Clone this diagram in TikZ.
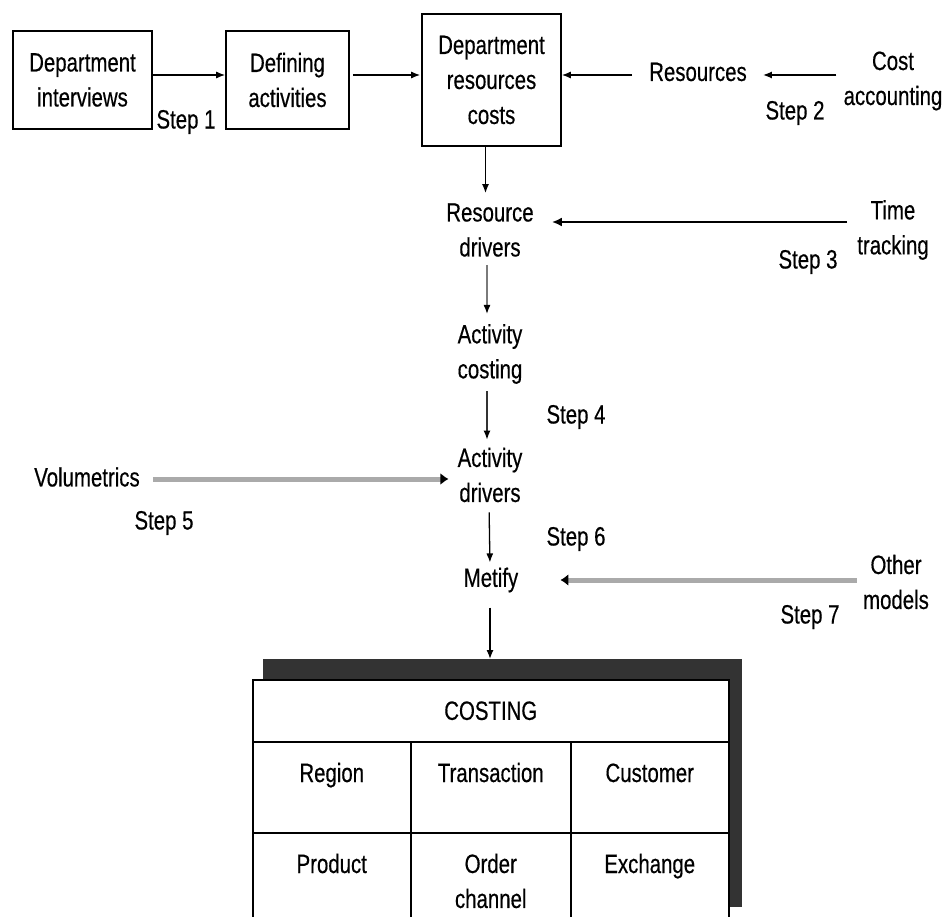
\documentclass[tikz,border=0pt]{standalone}
\usepackage{fontspec}
\setmainfont{Liberation Sans}[FakeStretch=0.77,FakeBold=0.4]
\usetikzlibrary{arrows.meta,calc}
\definecolor{shade}{HTML}{333333}
\definecolor{lgray}{HTML}{AAAAAA}
\definecolor{mgray}{HTML}{7A7A7A}
\tikzset{
 lbl/.style={inner sep=0pt, align=center, font=\fontsize{26.5}{35}\selectfont},
 boxnode/.style={lbl, draw, line width=1.6pt},
 arr/.style={line width=1.3pt, -{Latex[length=9pt,width=7pt,color=black]}},
 thickarr/.style={line width=2.4pt, -{Latex[length=10pt,width=9pt]}},
 grayarr/.style={line width=5pt, draw=lgray, -{Latex[length=8pt,width=12pt,color=black]}},
 cellbox/.style={draw, line width=1.5pt, fill=white, inner sep=0pt, anchor=north west},
 celltext/.style={lbl, anchor=base},
}
\begin{document}
\begin{tikzpicture}[x=1pt,y=-1pt]
\useasboundingbox (0,0) rectangle (945,917);
\clip (0,0) rectangle (945,917);
% boxes
\node[boxnode, minimum width=139pt, minimum height=98pt] (b1) at (82.5,80) {Department\\interviews};
\node[boxnode, minimum width=123pt, minimum height=98pt] (b2) at (287.5,80) {Defining\\activities};
\node[boxnode, minimum width=139pt, minimum height=132pt] (b3) at (491.5,80) {Department\\resources\\costs};
% labels
\node[lbl] (res) at (698,72) {Resources};
\node[lbl] (cost) at (893,81) {Cost\\accounting};
\node[lbl] (s1) at (186,122) {Step 1};
\node[lbl] (s2) at (795,113) {Step 2};
\node[lbl] (rd) at (490,230) {Resource\\drivers};
\node[lbl] (tt) at (893,230) {Time\\tracking};
\node[lbl] (s3) at (808,262) {Step 3};
\node[lbl] (ac) at (490,354) {Activity\\costing};
\node[lbl] (s4) at (576,417) {Step 4};
\node[lbl] (ad) at (490,475) {Activity\\drivers};
\node[lbl] (vol) at (87,477) {Volumetrics};
\node[lbl] (s5) at (164,523) {Step 5};
\node[lbl] (s6) at (576,539) {Step 6};
\node[lbl] (met) at (491,580) {Metify};
\node[lbl] (om) at (896,582) {Other\\models};
\node[lbl] (s7) at (810,617) {Step 7};
% table
\node[fill=shade, inner sep=0pt, anchor=north west, minimum width=479pt, minimum height=248pt] (shd) at (263,659) {};
\node[cellbox, minimum width=476pt, minimum height=62pt] (hd) at (252,679) {};
\node[lbl] (hdt) at (hd.center) {COSTING};
\node[cellbox, minimum width=158pt, minimum height=91pt] (c11) at (252,741) {};
\node[cellbox, minimum width=160pt, minimum height=91pt] (c12) at (410,741) {};
\node[cellbox, minimum width=158pt, minimum height=91pt] (c13) at (570,741) {};
\node[cellbox, minimum width=158pt, minimum height=91pt] (c21) at (252,832) {};
\node[cellbox, minimum width=160pt, minimum height=91pt] (c22) at (410,832) {};
\node[cellbox, minimum width=158pt, minimum height=91pt] (c23) at (570,832) {};
\node[celltext] (t11) at ([yshift=-41pt]c11.north) {Region};
\node[celltext] (t12) at ([yshift=-41pt]c12.north) {Transaction};
\node[celltext] (t13) at ([yshift=-41pt]c13.north) {Customer};
\node[celltext] (t21) at ([yshift=-41pt]c21.north) {Product};
\node[lbl] (t22) at ([yshift=-49pt]c22.north) {Order\\channel};
\node[celltext] (t23) at ([yshift=-41pt]c23.north) {Exchange};
% connectors
\draw[arr] ([yshift=5pt]b1.east) -- ([yshift=5pt]b2.west);
\draw[arr] ([xshift=3pt,yshift=5pt]b2.east) -- ([xshift=-1pt,yshift=5pt]b3.west);
\draw[arr] ([xshift=-17pt,yshift=-3pt]res.west) -- ([yshift=5pt]b3.east);
\draw[arr] ([xshift=-7pt,yshift=6pt]cost.west) -- ([xshift=16pt,yshift=-3pt]res.east);
\draw[arr, shorten >=10pt] ([xshift=-6pt]b3.south) -- ([xshift=-6pt]b3.south |- rd.north);
\draw[thickarr] ([xshift=-10pt,yshift=8pt]tt.west) -- ([xshift=18pt,yshift=8pt]rd.east);
\draw[arr, draw=mgray, shorten <=8pt, shorten >=10pt] ([xshift=-3pt]rd.south) -- ([xshift=-3pt]ac.north);
\draw[arr, draw=black!80, shorten <=7pt, shorten >=8pt] ([xshift=-3pt]ac.south) -- ([xshift=-3pt]ad.north);
\draw[arr, shorten <=10pt, shorten >=5pt] ([xshift=-1pt]ad.south) -- ([xshift=-1pt]met.north);
\draw[grayarr] ([xshift=13pt,yshift=-2pt]vol.east) -- ([xshift=-9pt,yshift=-4pt]ad.west);
\draw[grayarr] ([xshift=-6pt,yshift=2pt]om.west) -- ([xshift=42pt]met.east);
\draw[arr, shorten <=15pt] ([xshift=-1pt]met.south) -- ([xshift=-1pt]met.south |- shd.north);
\end{tikzpicture}
\end{document}
